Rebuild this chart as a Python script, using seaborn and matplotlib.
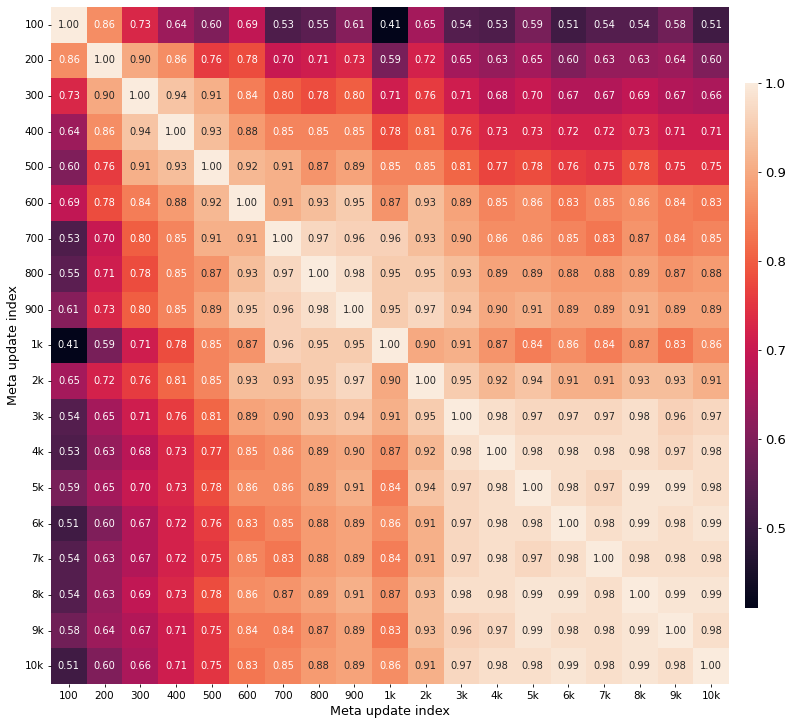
import numpy as np
import pandas as pd
import matplotlib
matplotlib.use("Agg")
import matplotlib.pyplot as plt
import seaborn as sns

labels = ["100", "200", "300", "400", "500", "600", "700", "800", "900", "1k",
          "2k", "3k", "4k", "5k", "6k", "7k", "8k", "9k", "10k"]

r100 = [1.00, 0.86, 0.73, 0.64, 0.60, 0.69, 0.53, 0.55, 0.61, 0.41, 0.65, 0.54, 0.53, 0.59, 0.51, 0.54, 0.54, 0.58, 0.51]
r200 = [0.86, 1.00, 0.90, 0.86, 0.76, 0.78, 0.70, 0.71, 0.73, 0.59, 0.72, 0.65, 0.63, 0.65, 0.60, 0.63, 0.63, 0.64, 0.60]
r300 = [0.73, 0.90, 1.00, 0.94, 0.91, 0.84, 0.80, 0.78, 0.80, 0.71, 0.76, 0.71, 0.68, 0.70, 0.67, 0.67, 0.69, 0.67, 0.66]
r400 = [0.64, 0.86, 0.94, 1.00, 0.93, 0.88, 0.85, 0.85, 0.85, 0.78, 0.81, 0.76, 0.73, 0.73, 0.72, 0.72, 0.73, 0.71, 0.71]
r500 = [0.60, 0.76, 0.91, 0.93, 1.00, 0.92, 0.91, 0.87, 0.89, 0.85, 0.85, 0.81, 0.77, 0.78, 0.76, 0.75, 0.78, 0.75, 0.75]
r600 = [0.69, 0.78, 0.84, 0.88, 0.92, 1.00, 0.91, 0.93, 0.95, 0.87, 0.93, 0.89, 0.85, 0.86, 0.83, 0.85, 0.86, 0.84, 0.83]
r700 = [0.53, 0.70, 0.80, 0.85, 0.91, 0.91, 1.00, 0.97, 0.96, 0.96, 0.93, 0.90, 0.86, 0.86, 0.85, 0.83, 0.87, 0.84, 0.85]
r800 = [0.55, 0.71, 0.78, 0.85, 0.87, 0.93, 0.97, 1.00, 0.98, 0.95, 0.95, 0.93, 0.89, 0.89, 0.88, 0.88, 0.89, 0.87, 0.88]
r900 = [0.61, 0.73, 0.80, 0.85, 0.89, 0.95, 0.96, 0.98, 1.00, 0.95, 0.97, 0.94, 0.90, 0.91, 0.89, 0.89, 0.91, 0.89, 0.89]
r1k = [0.41, 0.59, 0.71, 0.78, 0.85, 0.87, 0.96, 0.95, 0.95, 1.00, 0.90, 0.91, 0.87, 0.84, 0.86, 0.84, 0.87, 0.83, 0.86]
r2k = [0.65, 0.72, 0.76, 0.81, 0.85, 0.93, 0.93, 0.95, 0.97, 0.90, 1.00, 0.95, 0.92, 0.94, 0.91, 0.91, 0.93, 0.93, 0.91]
r3k = [0.54, 0.65, 0.71, 0.76, 0.81, 0.89, 0.90, 0.93, 0.94, 0.91, 0.95, 1.00, 0.98, 0.97, 0.97, 0.97, 0.98, 0.96, 0.97]
r4k = [0.53, 0.63, 0.68, 0.73, 0.77, 0.85, 0.86, 0.89, 0.90, 0.87, 0.92, 0.98, 1.00, 0.98, 0.98, 0.98, 0.98, 0.97, 0.98]
r5k = [0.59, 0.65, 0.70, 0.73, 0.78, 0.86, 0.86, 0.89, 0.91, 0.84, 0.94, 0.97, 0.98, 1.00, 0.98, 0.97, 0.99, 0.99, 0.98]
r6k = [0.51, 0.60, 0.67, 0.72, 0.76, 0.83, 0.85, 0.88, 0.89, 0.86, 0.91, 0.97, 0.98, 0.98, 1.00, 0.98, 0.99, 0.98, 0.99]
r7k = [0.54, 0.63, 0.67, 0.72, 0.75, 0.85, 0.83, 0.88, 0.89, 0.84, 0.91, 0.97, 0.98, 0.97, 0.98, 1.00, 0.98, 0.98, 0.98]
r8k = [0.54, 0.63, 0.69, 0.73, 0.78, 0.86, 0.87, 0.89, 0.91, 0.87, 0.93, 0.98, 0.98, 0.99, 0.99, 0.98, 1.00, 0.99, 0.99]
r9k = [0.58, 0.64, 0.67, 0.71, 0.75, 0.84, 0.84, 0.87, 0.89, 0.83, 0.93, 0.96, 0.97, 0.99, 0.98, 0.98, 0.99, 1.00, 0.98]
r10k = [0.51, 0.60, 0.66, 0.71, 0.75, 0.83, 0.85, 0.88, 0.89, 0.86, 0.91, 0.97, 0.98, 0.98, 0.99, 0.98, 0.99, 0.98, 1.00]

rows = [r100, r200, r300, r400, r500, r600, r700, r800, r900, r1k,
        r2k, r3k, r4k, r5k, r6k, r7k, r8k, r9k, r10k]
df = pd.DataFrame(rows, index=labels, columns=labels)

W, H = 793, 726
fig = plt.figure(figsize=(W / 100, H / 100), dpi=100)
ax = fig.add_axes([51 / W, (H - 684) / H, (729 - 51) / W, (684 - 7) / H])
cax = fig.add_axes([745 / W, (H - 608) / H, 13 / W, (608 - 83) / H])

sns.heatmap(df, ax=ax, cbar_ax=cax, cmap="rocket", annot=True, fmt=".2f",
            annot_kws={"fontsize": 7.1})
ax.set_xlabel("Meta update index", fontsize=9.2, labelpad=3)
ax.set_ylabel("Meta update index", fontsize=9.2, labelpad=3)
ax.tick_params(axis="both", labelsize=7.5, length=2.5, width=0.6, pad=2.5)
ax.set_yticklabels(labels, rotation=0)
ax.set_xticklabels(labels, rotation=0)
cax.set_yticks([0.5, 0.6, 0.7, 0.8, 0.9, 1.0])
cax.tick_params(labelsize=9.5, length=2.5, width=0.6, pad=2.5)

fig.savefig("out.png", dpi=100)
